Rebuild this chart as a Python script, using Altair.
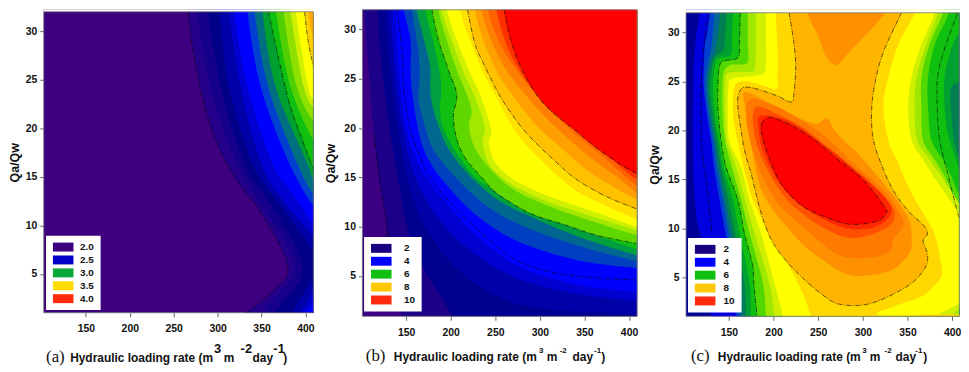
import altair as alt
import pandas as pd

FAR_L, FAR_R, FAR_T, FAR_B = 90, 425, 34, -1

# ---------- panel (a) band boundaries: (rate, Qa/Qw) ----------
A1 = [(267,32),(270,29.1),(280,24.3),(290.6,20.6),(303.8,17.5),(311,16.3),(324,14.3),(347,11.6),(373,7.5),(380,5.4),(373,4.1),(347,2.0),(328,0.7)]
A2 = [(277,32),(292,24.3),(321,16.5),(350,12),(375,8.5),(388,5.5),(375,3.5),(350,1)]
A3 = [(289,32),(304,24.3),(330,16.5),(358,12.5),(385,8.5),(397,5.5),(386,3.3),(365,1)]
A4 = [(302,32),(313,24.3),(339,16.5),(368,12.5),(398,8.8),(411,7.2)]
A4L = [(411,4.6),(398,3),(385,1)]
A5 = [(313,32),(326,24.3),(349,16.5),(375,12.5),(405,9.3),(411,8.8)]
A5L = [(411,3.6),(402,2),(394,1)]
A6 = [(319,32),(334,24.3),(362,16.5),(385,13.3),(411,10)]
A6L = [(411,2.5),(405,1.5),(400,1)]
A7 = [(334,32),(349,24.3),(381,16.5),(411,11.8)]
A8 = [(342,32),(357.5,24.3),(390,16.5),(411,13)]
A9 = [(351,32),(366,24.3),(401.5,16.5),(411,14.5)]
A10 = [(358,32),(366,28.6),(381,22.8),(394,19.4),(408,16),(411,15.2)]
A11 = [(366.5,32),(383,24.3),(411,18.5)]
A12 = [(375,32),(390,24.3),(411,20.5)]
A13 = [(383,32),(398,24.3),(411,22)]
A14 = [(389,32),(403,24.3),(411,23)]
A15 = [(399,32),(403,29),(409,26.4),(411,26)]
A16 = [(403,32),(407,30),(411,28.5)]

# ---------- panel (b) band boundaries ----------
B1 = [(103,32),(108,26),(114,19.4),(121,14.3),(127,11),(129.6,8.6),(136,5),(145.5,0.6)]
B2 = [(118,32),(123,26),(132.5,19.4),(142,14.3),(151,10),(168,6),(201,1)]
B3 = [(127,32),(132.5,26),(142,19.4),(153,14.3),(171.5,10),(208.7,5.6),(260.7,2.6),(312.7,1.6),(409,1.1)]
B4 = [(132.5,32),(137.4,26),(147.4,19.4),(160.4,15),(182.7,11.3),(216,8),(268,5),(335,3.3),(409,2.5)]
B5 = [(138,32),(142,26),(150,20),(166,16),(190,13),(227,9.3),(275.6,6),(342,4.1),(409,3.4)]
B6 = [(147.4,32),(155,28.9),(155,25.5),(158.5,22.5),(166,18.9),(177,16.5),(197.5,14),(231,11),(275.6,8.5),(342.4,6.6),(409,5.8)]
B7 = [(156.7,32),(164,27.6),(165,24.9),(164,22.9),(173.4,19.5),(182.7,17.5),(208.7,14.7),(242,12),(283,10),(342.4,8.1),(409,6.5)]
B8 = [(162,32),(170,29),(177,26.2),(177,24.2),(179,22.5),(186.4,20.2),(197.5,17.9),(220,15.3),(253,12.7),(290.4,11),(342.4,9),(409,7.1)]
B9 = [(171.5,32),(181,28.6),(188,25.5),(189.4,23.5),(188,22.2),(190,20.5),(197.5,18.9),(208.7,17.2),(231,14.7),(264.4,13),(298,11.3),(342.4,9.8),(409,7.7)]
B10 = [(179,32),(186.4,28.9),(197.5,25.9),(206.8,23.4),(203,21.2),(206.8,18.9),(216,17),(234.7,15),(253,13.3),(290.4,11.3),(327.6,10.2),(364.7,9.1),(408.5,8.3)]
B11 = [(186.4,32),(195.7,28.9),(206.8,25.9),(218,23.4),(223.6,21.7),(220.6,20.2),(227,18),(246,15.7),(272,13.7),(312.7,12),(357.3,10.6),(409,9.15)]
B12 = [(190,32),(201,28.9),(213,26),(226,23.4),(235,21.2),(238.5,19.8),(236,18.4),(245,16.1),(270,14.2),(310,12.5),(360,11),(409,9.65)]
B13 = [(195.7,32),(206.8,28.9),(219.8,26),(232.8,23.4),(242,21),(245.8,19.5),(242.8,18.4),(251.4,16.3),(275.6,14.5),(312.7,13),(361,11.5),(409,10)]
B14 = [(210.5,32),(221.7,28.9),(234.7,26),(249.6,23.4),(273.7,19.5),(301.6,16.7),(335,14),(364.7,12.5),(408.5,10.8)]
B15 = [(219,32),(227,28.6),(236.6,26.6),(249.6,24.2),(262.6,22.2),(284.8,19.5),(316.4,16.7),(342.4,14.7),(375.9,13),(408.5,11.8)]
B16 = [(227,32),(234.7,29.4),(245.8,26.9),(260.7,24.4),(294,20.5),(323.8,18),(353.5,15.7),(383.3,14),(408.5,12.8)]
B17 = [(234.7,32),(242,29.7),(253,27.4),(271.8,24.7),(305,21.2),(335,18.7),(361,16.7),(387,15),(408.5,13.5)]
B18 = [(242,32),(249.6,29.7),(260.7,27.7),(279.3,25.2),(312.7,21.7),(342.4,19.2),(368.4,17.3),(408.5,14.2)]
B19 = [(251.4,32),(258.8,29.4),(271.8,26.7),(294,23.7),(320,21.4),(350,19),(375.9,17.2),(408.5,14.8)]
B20 = [(260,32),(268,28.7),(283,25.4),(305,22.4),(340.6,19.7),(364.7,17.9),(390.7,16.3),(408.5,15.4)]
B_C4 = [(140,32),(145.5,27.9),(147.4,23.9),(153,20.5),(160.4,18.2),(177,15),(201,12.3),(231,9.65),(275.6,6.5),(331,5.1),(407,4.6)]
B_C2 = [(114,19.4),(121,14.3),(127,11),(129.6,8.6)]

# ---------- panel (c) band boundaries ----------
C1 = [(117.4,32),(112.6,29),(110,24.6),(110,16.2),(113.7,11.1),(119,8.9),(130,1.1)]
C2 = [(128.5,32),(126,30.1),(123,28.6),(121.9,26.4),(121.9,24.4),(126,21.2),(130.4,18.8),(133.3,16.2),(139.6,12.9),(146,9.5),(154.4,4.5),(158,1.1)]
C3 = [(134,32),(131,29),(128.5,27.6),(126,26.7),(124,24.4),(128,21.2),(132.6,18.8),(136.3,16.2),(143.3,12.9),(149.6,9.5),(158,4.5),(161.9,1.1)]
C3B = [(140.4,32),(137.8,29.8),(134.8,28.1),(129.3,26.7),(126.3,24.4),(130.4,21.2),(134.8,18.8),(138.9,16.2),(146,12.9),(153.3,9.5),(163,4.5),(165.6,1.1)]
C4 = [(147,32),(145.2,29),(143.3,28.1),(134,27.4),(131,26.4),(128.5,24.4),(132.6,21.2),(137,18.8),(141.5,16.2),(149.6,12.9),(157,9.5),(167.4,4.5),(169.3,1.1)]
C4R = [(415,16),(404,18.3),(399,21.7),(399,24.4),(414,26)]
C5 = [(154.4,32),(153.3,29),(151.9,27.7),(137.8,27.3),(134,26.4),(132.2,24.4),(134.8,21.2),(139.3,18.8),(144,16.2),(154.4,12.9),(161.9,9.5),(173,4.5),(174.8,1.1)]
C5R = [(413.7,14.3),(404.4,17),(395,19.7),(391.5,22.4),(391.5,25.4),(400.7,28.75),(419,32)]
C6 = [(162.6,32),(161.9,29),(160,27.4),(145.2,27.1),(139.6,26.6),(137.8,24.6),(137.8,22.2),(141.5,18.8),(147,16.2),(160,12.9),(167.4,9.5),(176.7,6.2),(177.8,4.5),(181.5,1.1)]
C6R = [(410,13.2),(399,15.3),(389.6,17),(376.7,19),(373,22.4),(373,25.4),(380.4,28.75),(396.3,32)]
C7 = [(171,32),(171,29),(170.4,26.9),(152.6,26.7),(144.4,26),(142.6,24.2),(143.3,21.2),(146,18.8),(153.3,16.2),(163.7,12.9),(173,9.5),(187.8,4.5),(191.5,1.1)]
C7R = [(410,11.9),(391.5,15.3),(380.4,17),(367.4,19),(365.6,22.4),(365.6,25.4),(374.8,28.75),(389.6,32)]
C8 = [(180.4,32),(180.4,29),(179.3,26.6),(176.7,26),(150.7,25.9),(146,25),(146,21.2),(148,18.8),(158,16.2),(168,12.9),(178.5,9.5),(195,4.5),(200.7,1.1)]
C8R = [(393.3,0.8),(410,1.8),(423,3.1),(423,8.9),(413.7,11.6),(387.8,15.3),(374.8,17),(360.7,19),(358,22.4),(360,25.4),(371,28.75),(384,32)]
C9 = [(191.5,32),(191.5,29),(191.5,26.7),(185.9,25.7),(154.4,25.3),(149.6,24.5),(148.9,21.2),(150.7,18.8),(163.7,16.2),(173,12.9),(185.9,9.5),(200.7,4.5),(210,1.1)]
C9R = [(384,1),(408,2.3),(423,3.5),(423,8.9),(413.7,10.7),(382,14.9),(367.4,17),(354.4,19),(350.7,22.4),(354.4,25.4),(365.6,28.75),(380.4,32)]
C10 = [(202.6,32),(204.4,28.3),(204.4,25.6),(202.6,24.2),(184,24.7),(165.6,25),(156.3,24.4),(154.4,22.2),(156.3,20.5),(160,18.8),(166.7,16.2),(176.7,12.9),(195,9.5),(211.9,6.9),(226.7,4.5),(241.5,1.1)]
C10R = [(319.3,1.1),(337.8,2.1),(367.4,3.1),(386,4.8),(388.5,5.8),(382,8.9),(373,10.7),(354.4,13.6),(337.8,17),(328.5,19),(323,22.4),(328.5,25.4),(339.6,28.75),(358,32)]
C11 = [(217.4,32),(223,28.75),(224.8,26.4),(223,24),(220,22.9),(204.4,23.5),(182.2,24.2),(167.4,24.4),(161.9,23.9),(160,22.4),(167.4,18),(174.8,15.6),(185.9,11.6),(197,8.9),(211.9,6.9),(234,4.8),(256.3,3.1),(271,2.3),(289.6,2.1),(308,2.3),(330.4,3.1),(356.3,4.5),(371,6.2),(371.9,7.5),(367.4,8.7),(372.2,9.4),(369,10.2),(352.6,11.6),(337.8,13.3),(324.8,15.6),(311.9,19),(310,22.4),(315.6,25.7),(324.8,28.4),(343.3,32)]
C12T = [(237.8,32),(248.9,29.8),(260,27.4),(271,26.7),(286,28.1),(324.8,32)]
R1 = [(169.3,23.9),(206.3,22.2),(245,20.7),(260,21.2),(271,19.7),(300.7,17),(337.8,12.9),(352.6,10.6),(354.4,8.9),(352.6,7.5),(334,5.8),(308,5.2),(282,5.3),(252.6,6.9),(226.7,8.9),(189.6,13.3),(176.7,17.6),(168,22.4)]
R2 = [(174.8,23.2),(204.4,22.4),(245,20.2),(271,18.3),(293.3,16.3),(323,13.9),(343.3,11.2),(344.4,10.1),(334,8.9),(330.4,7.7),(308,7),(274.8,7.2),(248.9,8.9),(226.7,10.6),(204.4,12.6),(185.9,15.6),(174.8,18.6),(169.3,21.5)]
R3 = [(182.2,22.4),(208,21.5),(241.5,19.7),(278.5,16.6),(300.7,15.3),(330.4,12.6),(334.8,10.9),(319,9.7),(286,9),(252.6,10.2),(226.7,11.9),(211.9,13.3),(197,15.3),(182.2,18.3),(176.7,21)]
R4 = [(185.9,21.5),(215.6,21),(252.6,18.8),(289.6,16.1),(323,13.3),(332,11.6),(315.6,10.2),(286,9.9),(256.3,10.9),(226.7,12.6),(204.4,14.9),(187.8,18),(183,20.3)]
R5 = [(186.7,20.7),(191.5,21.2),(197,21.3),(215.6,20.7),(241.5,19.3),(271,17.1),(300.7,14.9),(324.8,12.1),(324.8,11.4),(315.6,10.7),(286,10.4),(256.3,11.2),(230.4,12.4),(208,14.6),(193.3,17.6),(186.7,19.7)]
C_C4 = [(127.8,32),(123,29.5),(119.3,25.6),(119.3,18.8),(124.8,14.6),(131,9.5)]
C_C6R = [(406.3,32),(393,28.75),(384,25.7),(383.3,22.4),(386,19),(395,15.6),(408,10.9)]

# ---------- text ----------
X_TICKS = [150, 200, 250, 300, 350, 400]
Y_TICKS = [5, 10, 15, 20, 25, 30]
A_LEGEND = ["2.0", "2.5", "3.0", "3.5", "4.0"]
BC_LEGEND = ["2", "4", "6", "8", "10"]
A_LEGEND_COLORS = ["#3a0080", "#0000c8", "#0aa838", "#ffdd00", "#ff2a10"]
BC_LEGEND_COLORS = ["#1a0080", "#0000ff", "#10c010", "#ffc800", "#ff2a10"]
PIECES = ["Hydraulic loading rate (m", "3", "m", "-2", "day", "-1", ")"]


def top_right(c):
    return c + [(FAR_R, c[-1][1]), (FAR_R, FAR_T), (c[0][0], FAR_T)]


def top_bottom(c):
    return c + [(c[-1][0], FAR_B), (FAR_R, FAR_B), (FAR_R, FAR_T), (c[0][0], FAR_T)]


def low_right(c):
    return c + [(c[-1][0], FAR_B), (FAR_R, FAR_B), (FAR_R, c[0][1])]


def with_right(c, r):
    return c + [(c[-1][0], FAR_B), (FAR_R, FAR_B), (FAR_R, r[0][1])] + r + [(r[-1][0], FAR_T), (c[0][0], FAR_T)]


def capped(c):
    return c + [(c[-1][0], FAR_T), (c[0][0], FAR_T)]


BG = [(FAR_L, FAR_T), (FAR_R, FAR_T), (FAR_R, FAR_B), (FAR_L, FAR_B)]

A_FILLS = [
    ("#3f007f", BG), ("#25008a", top_bottom(A1)), ("#14008a", top_bottom(A2)), ("#000088", top_bottom(A3)),
    ("#0000a8", top_right(A4)), ("#0000a8", low_right(A4L)), ("#0000d0", top_right(A5)), ("#0000d0", low_right(A5L)),
    ("#0000ff", top_right(A6)), ("#0000ff", low_right(A6L)), ("#0040d0", top_right(A7)), ("#007080", top_right(A8)),
    ("#00a030", top_right(A9)), ("#10c010", top_right(A10)), ("#50d000", top_right(A11)), ("#90e000", top_right(A12)),
    ("#d0f000", top_right(A13)), ("#ffff00", top_right(A14)), ("#ffd000", top_right(A15)), ("#ffa800", top_right(A16)),
]
A_LINES = [A1, A10, A15]

B_FILLS = [
    ("#3c0084", BG), ("#1c0088", top_bottom(B1)), ("#000090", top_bottom(B2)), ("#0000a8", top_right(B3)),
    ("#0000d0", top_right(B4)), ("#0000ff", top_right(B5)), ("#0040c0", top_right(B6)), ("#006890", top_right(B7)),
    ("#00a040", top_right(B8)), ("#10c010", top_right(B9)), ("#60d800", top_right(B10)), ("#a0e800", top_right(B11)),
    ("#d0f000", top_right(B12)), ("#ffff00", top_right(B13)), ("#ffe000", top_right(B14)), ("#ffc000", top_right(B15)),
    ("#ffa000", top_right(B16)), ("#ff8000", top_right(B17)), ("#ff6000", top_right(B18)), ("#ff3000", top_right(B19)),
    ("#ff0000", top_right(B20)),
]
B_LINES = [B_C2, B_C4, B10, B15, B20]

C_FILLS = [
    ("#000098", BG), ("#0000e0", top_bottom(C1)), ("#0040d0", top_bottom(C2)), ("#006890", top_bottom(C3)),
    ("#008050", top_bottom(C3B)), ("#00a030", with_right(C4, C4R)), ("#10c010", with_right(C5, C5R)),
    ("#50d800", with_right(C6, C6R)), ("#a0e800", with_right(C7, C7R)), ("#d0f000", with_right(C8, C8R)),
    ("#ffff00", with_right(C9, C9R)), ("#ffd800", with_right(C10, C10R)), ("#ffb400", capped(C11)),
    ("#ff9000", capped(C12T)), ("#ff9000", R1), ("#ff7800", R2), ("#ff5000", R3), ("#ff2800", R4), ("#ff0000", R5),
]
C_LINES = [C_C4, C6, C_C6R, C11, R5 + R5[:1]]


def rows(polys):
    out = []
    for i, p in enumerate(polys):
        for j, (x, y) in enumerate(p):
            out.append({"poly": i, "seq": j, "x": x, "y": y})
    return out


def panel(fills, lines, xdom, ydom, w, h, ytop, legend_labels, legend_colors, lx, ly, label_off, letter, letter_x, offs,
          main_y, sup_y, sup_size, tpad):
    xs = alt.Scale(domain=xdom, range=[0, w], nice=False, zero=False)
    ys = alt.Scale(domain=ydom, range=[h, ytop], nice=False, zero=False)
    xa = alt.Axis(values=X_TICKS, title=None, grid=False, domain=False, tickColor="#666", tickSize=4, labelPadding=7,
                  labelFont="Liberation Sans", labelFontWeight="bold", labelFontSize=10.5, labelColor="#111", format="d")
    ya = alt.Axis(values=Y_TICKS, title="Qa/Qw", grid=False, domain=False, tickColor="#666", tickSize=4, labelPadding=3,
                  labelFont="Liberation Sans", labelFontWeight="bold", labelFontSize=10.5, labelColor="#111", format="d",
                  titleFont="Liberation Sans", titleFontWeight="bold", titleFontSize=12.5, titleColor="#111", titlePadding=tpad)
    X = alt.X("x:Q", scale=xs, axis=xa)
    Y = alt.Y("y:Q", scale=ys, axis=ya)

    fdata = []
    for i, (col, pts) in enumerate(fills):
        for j, (x, y) in enumerate(pts):
            fdata.append({"poly": f"{i:03d}", "seq": j, "x": x, "y": y, "col": col})
    fill_layer = alt.Chart(pd.DataFrame(fdata)).mark_line(
        interpolate="cardinal-closed", strokeWidth=0, clip=True
    ).encode(x=X, y=Y, fill=alt.Fill("col:N", scale=None), detail="poly:N", order="seq:Q")

    line_layer = alt.Chart(pd.DataFrame(rows(lines))).mark_line(
        interpolate="cardinal", color="#000", strokeWidth=0.6, strokeDash=[5, 1.5, 1, 1.5], clip=True
    ).encode(x=X, y=Y, detail="poly:N", order="seq:Q")

    layers = [fill_layer, line_layer]
    if ytop > 0:
        layers.append(alt.Chart(pd.DataFrame({"k": [0]})).mark_rect(color="white").encode(
            x=alt.value(0), x2=alt.value(w + 1), y=alt.value(0), y2=alt.value(ytop)))
    frame = alt.Chart(pd.DataFrame({"x": [xdom[0]], "x2": [xdom[1]], "y": [ydom[0]], "y2": [ydom[1]]})).mark_rect(
        fillOpacity=0, stroke="#777", strokeWidth=0.8
    ).encode(x=X, x2="x2:Q", y=Y, y2="y2:Q")
    layers.append(frame)

    leg = alt.Chart(pd.DataFrame({"label": legend_labels})).mark_point(filled=True, size=0).encode(
        color=alt.Color("label:N", scale=alt.Scale(domain=legend_labels, range=legend_colors), legend=alt.Legend(
            title=None, orient="none", legendX=lx, legendY=ly, fillColor="white", padding=6.5, rowPadding=3,
            symbolType="M-3.45,-1.5H3.45V1.5H-3.45Z", symbolSize=36, symbolOpacity=1, symbolOffset=5.8, labelOffset=label_off,
            labelFont="Liberation Sans", labelFontSize=10, labelFontWeight="bold", labelColor="#111"
        ))
    )
    layers.append(leg)

    def txt(s, x, y, size, font="Liberation Sans", weight="bold"):
        return alt.Chart(pd.DataFrame({"t": [s]})).mark_text(
            align="left", baseline="middle", font=font, fontSize=size, fontWeight=weight, color="#111"
        ).encode(text="t:N", x=alt.value(x), y=alt.value(y))

    layers.append(txt(letter, letter_x, main_y - 1, 17, "Liberation Serif", "normal"))
    for k, (piece, ox) in enumerate(zip(PIECES, offs)):
        sup = k in (1, 3, 5)
        layers.append(txt(piece, ox, sup_y if sup else main_y, sup_size if sup else 12))
    return alt.layer(*layers).properties(width=w, height=h)


pa = panel(A_FILLS, A_LINES, [102, 409], [1, 32], 271.6, 305.7, 2.5, A_LEGEND, A_LEGEND_COLORS, 2.3, 228, 12, "(a)", 2.3,
           [26.6, 171.5, 181.3, 198.3, 210.3, 231.3, 241.3], 351, 342, 13, 4)
pb = panel(B_FILLS, B_LINES, [101, 409], [0.9, 32], 276.7, 309.3, 0.5, BC_LEGEND, BC_LEGEND_COLORS, 1.7, 229.3, 18, "(b)", 3.4,
           [31.7, 177.9, 185.7, 198.7, 211.7, 233.4, 240.7], 350.3, 344, 8, 6)
pc = panel(C_FILLS, C_LINES, [102, 408], [1, 32], 275.3, 309.3, 3.5, BC_LEGEND, BC_LEGEND_COLORS, 2, 230.3, 13.5, "(c)", 5,
           [32, 177.5, 185, 200, 211, 231, 239], 350.3, 344, 8, 6)

chart = (
    alt.hconcat(pa, pb, pc, spacing=49, bounds="flush")
    .resolve_scale(color="independent")
    .resolve_legend(color="independent")
    .properties(padding=0)
    .configure_view(stroke=None)
)
chart.save("out.html", embed_options={"renderer": "svg", "actions": False})
